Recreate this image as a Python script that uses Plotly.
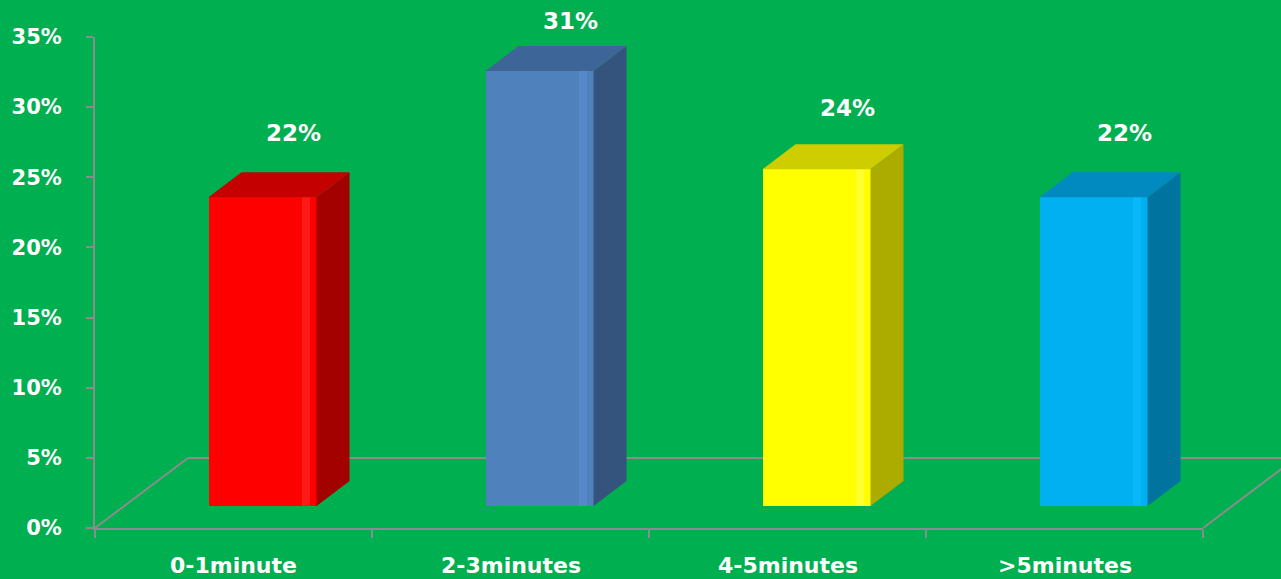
import plotly.graph_objects as go

# ---- data ----
categories = ["0-1minute", "2-3minutes", "4-5minutes", ">5minutes"]
values = [22, 31, 24, 22]
value_labels = ["22%", "31%", "24%", "22%"]
y_ticks = [0, 5, 10, 15, 20, 25, 30, 35]
y_tick_labels = ["0%", "5%", "10%", "15%", "20%", "25%", "30%", "35%"]

front_colors = ["#FF0000", "#4F81BD", "#FFFF00", "#00B0F0"]
highlight_colors = ["#FF1A1A", "#5789C8", "#FFFF30", "#08B8F8"]
side_colors = ["#A30000", "#34547E", "#ABAB00", "#00739F"]
top_colors = ["#C40000", "#3E6597", "#CDCD00", "#008AC0"]

# ---- geometry (layout only) ----
W, H = 1281, 579
ml, mr, mt, mb = 95, 78, 37.3, 51
plot_w = W - ml - mr
plot_h = H - mt - mb
x_range = [0, 4]
y_range = [0, 35]
px_x = plot_w / (x_range[1] - x_range[0])   # pixels per x unit
px_y = plot_h / (y_range[1] - y_range[0])   # pixels per y unit

bar_shift = 29 / px_x         # front face shifted into depth
bar_base = 22 / px_y
bar_w = 108 / px_x
dx = 33 / px_x                # bar depth
dy = 25 / px_y
floor_dx = 93 / px_x
floor_dy = 70 / px_y

grey = "#8C8C8C"
bg = "#00AF50"

fig = go.Figure()

for i, (cat, v) in enumerate(zip(categories, values)):
    xc = i + 0.5 + bar_shift
    x0, x1 = xc - bar_w / 2, xc + bar_w / 2
    b, t = bar_base, bar_base + v
    # side face
    fig.add_trace(go.Scatter(
        x=[x1, x1 + dx, x1 + dx, x1, x1],
        y=[b, b + dy, t + dy, t, b],
        fill="toself", fillcolor=side_colors[i], mode="lines",
        line=dict(width=0, color=side_colors[i]), hoverinfo="skip", showlegend=False))
    # top face
    fig.add_trace(go.Scatter(
        x=[x0, x0 + dx, x1 + dx, x1, x0],
        y=[t, t + dy, t + dy, t, t],
        fill="toself", fillcolor=top_colors[i], mode="lines",
        line=dict(width=0, color=top_colors[i]), hoverinfo="skip", showlegend=False))

# front faces
bar_x = [i + 0.5 + bar_shift for i in range(len(categories))]
fig.add_trace(go.Bar(
    x=bar_x, y=values, base=bar_base, width=bar_w,
    marker=dict(color=front_colors, line=dict(width=0)),
    hoverinfo="skip", showlegend=False))
# soft highlight band near the right edge of each front face
fig.add_trace(go.Bar(
    x=[xb + bar_w / 2 - 11 / px_x for xb in bar_x], y=values, base=bar_base,
    width=8 / px_x,
    marker=dict(color=highlight_colors, line=dict(width=0)),
    hoverinfo="skip", showlegend=False))

# floor (paper coordinates so it may extend past the axis)
def px_(xd):
    return (xd - x_range[0]) / (x_range[1] - x_range[0])

def py_(yd):
    return (yd - y_range[0]) / (y_range[1] - y_range[0])

line_style = dict(color=grey, width=2)
shapes = [
    dict(type="line", xref="paper", yref="paper", layer="below", x0=px_(0), y0=py_(0),
         x1=px_(floor_dx), y1=py_(floor_dy), line=line_style),
    dict(type="line", xref="paper", yref="paper", layer="below", x0=px_(floor_dx), y0=py_(floor_dy),
         x1=px_(4 + floor_dx + 0.5), y1=py_(floor_dy), line=line_style),
    dict(type="line", xref="paper", yref="paper", layer="below", x0=px_(4), y0=py_(0),
         x1=px_(4 + floor_dx), y1=py_(floor_dy), line=line_style),
]

annotations = []
for i, (cat, v, lab) in enumerate(zip(categories, values, value_labels)):
    annotations.append(dict(
        x=px_(i + 0.5), y=0, xref="paper", yref="paper", yshift=-37, text=cat,
        showarrow=False, yanchor="middle", xanchor="center",
        font=dict(family="DejaVu Sans", size=22, color="white", weight="bold")))
    annotations.append(dict(
        x=px_(i + 0.5 + 60 / px_x), y=py_(0.888 * v + 8.63), xref="paper", yref="paper",
        text=lab, showarrow=False, yanchor="middle", xanchor="center",
        font=dict(family="DejaVu Sans", size=23, color="white", weight="bold")))

fig.update_layout(
    width=W, height=H,
    margin=dict(l=ml, r=mr, t=mt, b=mb, pad=0),
    paper_bgcolor=bg, plot_bgcolor=bg,
    shapes=shapes, annotations=annotations,
    bargap=0, barmode="overlay",
    xaxis=dict(range=x_range, tickvals=[0, 1, 2, 3, 4], showticklabels=False,
               ticks="outside", ticklen=8, tickwidth=2, tickcolor=grey,
               showline=True, linecolor=grey, linewidth=2,
               showgrid=False, zeroline=False, fixedrange=True),
    yaxis=dict(range=y_range, tickvals=y_ticks, ticktext=y_tick_labels,
               ticks="outside", ticklen=7, tickwidth=2, tickcolor=grey,
               showline=True, linecolor=grey, linewidth=2,
               showgrid=False, zeroline=False, ticklabelstandoff=20,
               tickfont=dict(family="DejaVu Sans", size=21, color="white", weight="bold"),
               fixedrange=True),
)

fig.write_html("out.html", config={"displayModeBar": False})
